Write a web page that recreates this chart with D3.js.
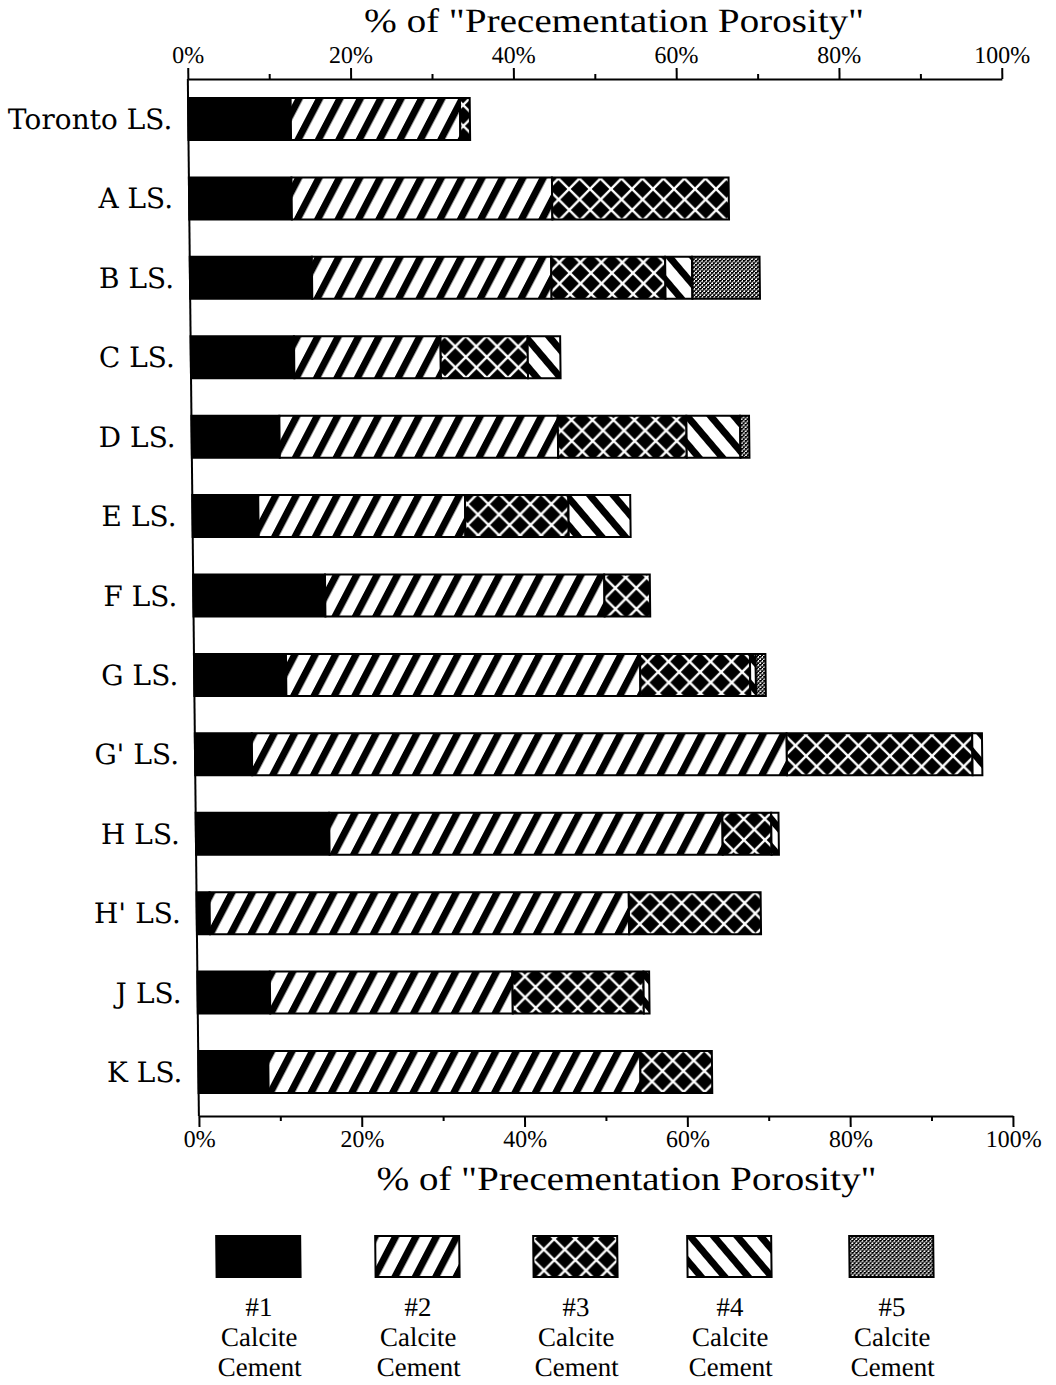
<!DOCTYPE html>
<html><head><meta charset="utf-8">
<script src="https://cdn.jsdelivr.net/npm/d3@7"></script>
<style>body{margin:0;background:#fff}</style>
</head><body>
<svg id="c" width="1056" height="1385"></svg>
<script>
const categories = ["Toronto LS.","A LS.","B LS.","C LS.","D LS.","E LS.","F LS.","G LS.","G' LS.","H LS.","H' LS.","J LS.","K LS."];
const cement1 = [12.6,12.6,15.0,12.7,10.8,8.1,16.2,11.3,7.0,16.4,1.6,8.9,8.6];
const cement2 = [20.8,32.0,29.4,18.0,34.2,25.4,34.3,43.5,65.7,48.3,51.5,29.8,45.7];
const cement3 = [1.2,21.7,14.0,10.7,15.8,12.7,5.6,13.5,22.8,6.0,16.2,16.1,8.8];
const cement4 = [0,0,3.3,4.0,6.6,7.6,0,0.7,1.2,0.9,0,0.7,0];
const cement5 = [0,0,8.3,0,1.1,0,0,1.2,0,0,0,0,0];
const seriesKeys = ["c1","c2","c3","c4","c5"];
const seriesNames = ["#1","#2","#3","#4","#5"];
const seriesLine2 = "Calcite";
const seriesLine3 = "Cement";
const xTicks = [0,20,40,60,80,100];
const xMinorTicks = [10,30,50,70,90];
const axisTitle = '% of "Precementation Porosity"';

const table = categories.map((c,i)=>({cat:c, c1:cement1[i], c2:cement2[i], c3:cement3[i], c4:cement4[i], c5:cement5[i]}));

const svg = d3.select("#c");
const defs = svg.append("defs");
// patterns
const p1 = defs.append("pattern").attr("id","p1").attr("patternUnits","userSpaceOnUse").attr("width",10).attr("height",10);
p1.append("rect").attr("width",10).attr("height",10).attr("fill","#000");
const p2 = defs.append("pattern").attr("id","p2").attr("patternUnits","userSpaceOnUse").attr("width",18).attr("height",18).attr("patternTransform","rotate(28)");
p2.append("rect").attr("width",18).attr("height",18).attr("fill","#fff");
p2.append("rect").attr("width",7).attr("height",18).attr("fill","#000");
const p3 = defs.append("pattern").attr("id","p3").attr("patternUnits","userSpaceOnUse").attr("width",21).attr("height",21);
p3.append("rect").attr("width",21).attr("height",21).attr("fill","#000");
p3.append("path").attr("d","M0,0L21,21M21,0L0,21M-2,19L2,23M19,-2L23,2").attr("stroke","#fff").attr("stroke-width",2.4);
const p4 = defs.append("pattern").attr("id","p4").attr("patternUnits","userSpaceOnUse").attr("width",18).attr("height",18).attr("patternTransform","rotate(-40)");
p4.append("rect").attr("width",18).attr("height",18).attr("fill","#fff");
p4.append("rect").attr("width",7).attr("height",18).attr("fill","#000");
const p5 = defs.append("pattern").attr("id","p5").attr("patternUnits","userSpaceOnUse").attr("width",4).attr("height",4);
p5.append("rect").attr("width",4).attr("height",4).attr("fill","#fff");
p5.append("rect").attr("width",2).attr("height",2).attr("fill","#000");
p5.append("rect").attr("x",2).attr("y",2).attr("width",2).attr("height",2).attr("fill","#000");
p5.append("rect").attr("x",2).attr("y",0).attr("width",1).attr("height",1).attr("fill","#000");
p5.append("rect").attr("x",0).attr("y",2).attr("width",1).attr("height",1).attr("fill","#000");
const fills = {c1:"url(#p1)",c2:"url(#p2)",c3:"url(#p3)",c4:"url(#p4)",c5:"url(#p5)"};

const root = svg.append("g").attr("transform","skewX(0.61)");

const x = d3.scaleLinear().domain([0,100]).range([187,1001]);
const y = d3.scalePoint().domain(categories).range([119,1072]);
const barH = 42;

const stack = d3.stack().keys(seriesKeys)(table);

root.selectAll("g.layer").data(stack).join("g").attr("class","layer")
  .attr("fill", d=>fills[d.key])
  .selectAll("rect").data(d=>d.filter(e=>e[1]-e[0]>0)).join("rect")
  .attr("x", d=>x(d[0])).attr("width", d=>x(d[1])-x(d[0]))
  .attr("y", d=>y(d.data.cat)-barH/2).attr("height", barH)
  .attr("stroke","#000").attr("stroke-width",2);

// left axis line
root.append("line").attr("x1",x(0)).attr("x2",x(0)).attr("y1",79).attr("y2",1116).attr("stroke","#000").attr("stroke-width",2);

// category labels
root.selectAll("text.cat").data(categories).join("text").attr("class","cat")
  .attr("x", x(0)-16).attr("y", d=>y(d)).attr("dy","0.36em")
  .attr("text-anchor","end").attr("font-family","DejaVu Serif").attr("font-size",28).attr("fill","#000")
  .text(d=>d);

function styleAxis(g){
  g.select(".domain").attr("stroke","#000").attr("stroke-width",2);
  g.selectAll(".tick line").attr("stroke","#000").attr("stroke-width",2);
  g.selectAll(".tick text").attr("font-family","Liberation Serif").attr("font-size",24).attr("fill","#000");
}
// top axis
const topG = root.append("g").attr("transform","translate(0,79)")
  .call(d3.axisTop(x).tickValues(xTicks).tickFormat(d=>d+"%").tickSize(11).tickSizeOuter(0).tickPadding(5));
styleAxis(topG);
const topMinor = root.append("g").attr("transform","translate(0,79)")
  .call(d3.axisTop(x).tickValues(xMinorTicks).tickFormat("").tickSize(5).tickSizeOuter(0));
topMinor.select(".domain").remove(); styleAxis(topMinor);
// bottom axis
const botG = root.append("g").attr("transform","translate(0,1116)")
  .call(d3.axisBottom(x).tickValues(xTicks).tickFormat(d=>d+"%").tickSize(11).tickSizeOuter(0).tickPadding(3));
styleAxis(botG);
const botMinor = root.append("g").attr("transform","translate(0,1116)")
  .call(d3.axisBottom(x).tickValues(xMinorTicks).tickFormat("").tickSize(5).tickSizeOuter(0));
botMinor.select(".domain").remove(); styleAxis(botMinor);

// axis titles
[32,1190].forEach(yy=>{
  root.append("text").attr("x",614).attr("y",yy).attr("text-anchor","middle")
    .attr("font-family","Liberation Serif").attr("font-size",34).attr("fill","#000")
    .attr("textLength",500).attr("lengthAdjust","spacingAndGlyphs").text(axisTitle);
});

// legend
const legendCx = [245,404,562,716,878];
const lg = root.selectAll("g.leg").data(seriesKeys).join("g").attr("class","leg")
  .attr("transform",(d,i)=>`translate(${legendCx[i]},0)`);
lg.append("rect").attr("x",-42).attr("y",1236).attr("width",84).attr("height",41)
  .attr("fill",d=>fills[d]).attr("stroke","#000").attr("stroke-width",2);
lg.append("text").attr("y",1316).attr("text-anchor","middle").attr("font-family","Liberation Serif").attr("font-size",27).text((d,i)=>seriesNames[i]);
lg.append("text").attr("y",1346).attr("text-anchor","middle").attr("font-family","Liberation Serif").attr("font-size",27).text(seriesLine2);
lg.append("text").attr("y",1376).attr("text-anchor","middle").attr("font-family","Liberation Serif").attr("font-size",27).text(seriesLine3);
</script>
</body></html>
